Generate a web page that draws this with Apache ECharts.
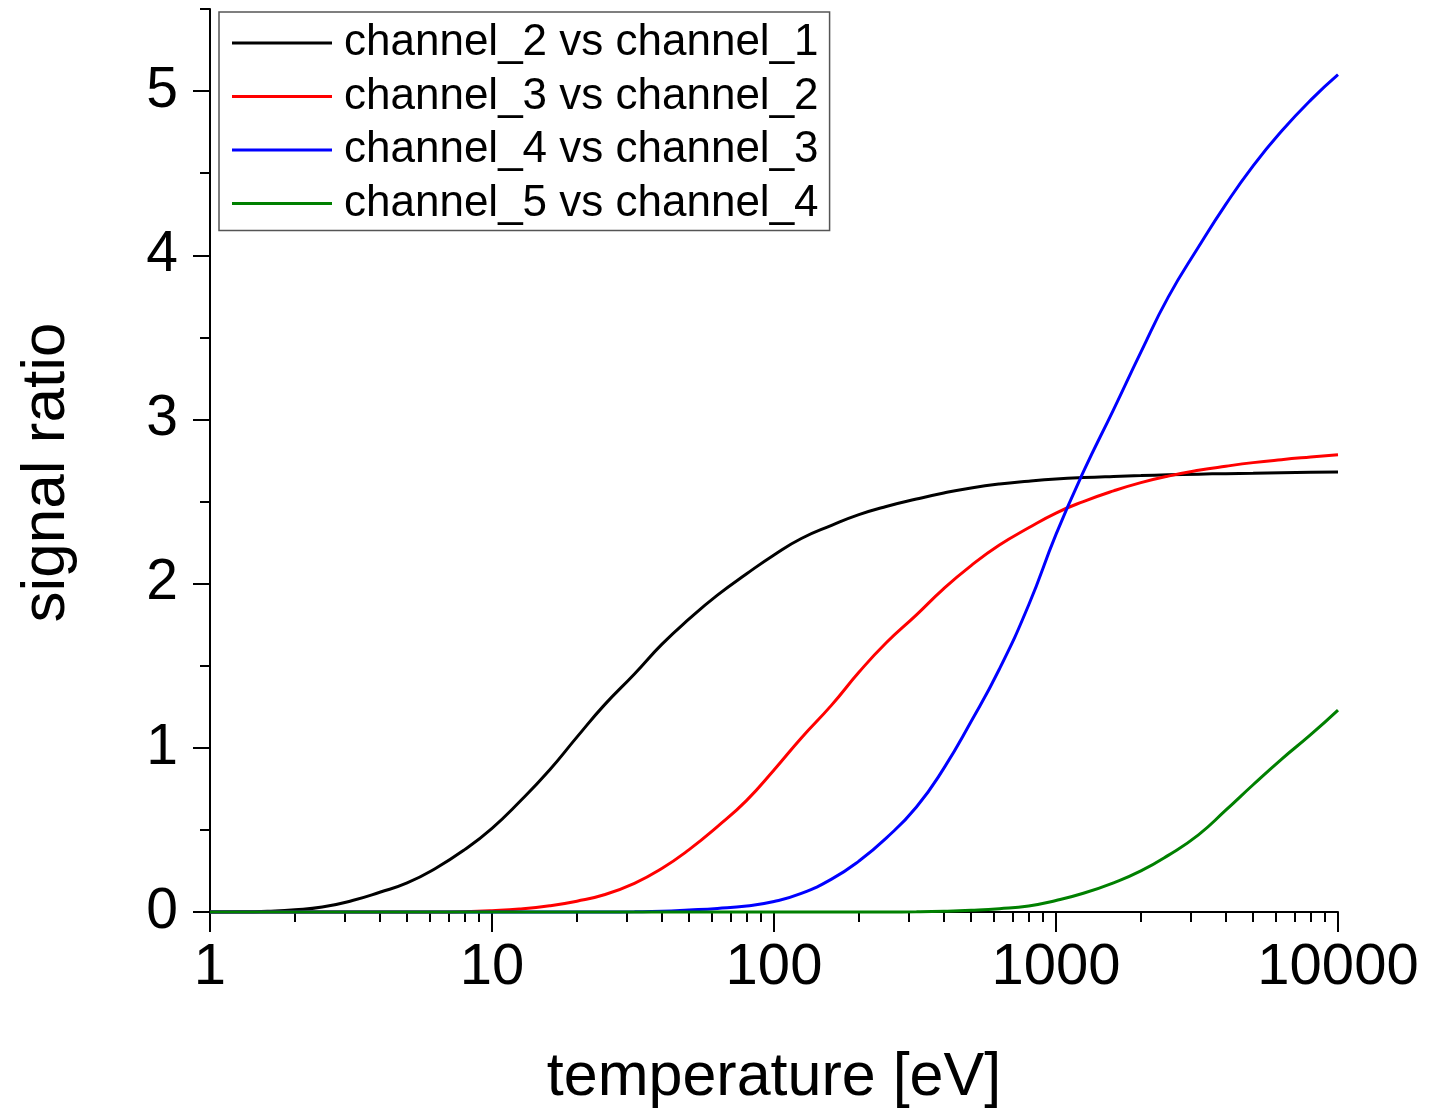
<!DOCTYPE html>
<html><head><meta charset="utf-8">
<script src="https://cdn.jsdelivr.net/npm/echarts@6/dist/echarts.min.js"></script>
<style>html,body{margin:0;padding:0;background:#fff}#c{width:1435px;height:1109px}</style>
</head><body><div id="c"></div>
<script>
const temperature = [1, 1.25, 1.6, 2, 2.5, 3.2, 4, 5, 6.3, 8, 10, 12.5, 16, 20, 25, 32, 40, 50, 63, 80, 100, 125, 160, 200, 250, 320, 400, 500, 630, 800, 1000, 1250, 1600, 2000, 2500, 3200, 4000, 5000, 6300, 8000, 10000];
const ch2vs1 = [0, 0.001, 0.005, 0.013, 0.03, 0.07, 0.12, 0.177, 0.265, 0.38, 0.51, 0.67, 0.865, 1.065, 1.26, 1.45, 1.63, 1.785, 1.93, 2.06, 2.175, 2.275, 2.355, 2.42, 2.47, 2.515, 2.552, 2.583, 2.607, 2.624, 2.637, 2.646, 2.653, 2.658, 2.663, 2.667, 2.67, 2.673, 2.676, 2.678, 2.68];
const ch3vs2 = [0, 0, 0, 0, 0, 0, 0, 0, 0, 0.002, 0.008, 0.018, 0.038, 0.066, 0.105, 0.175, 0.265, 0.38, 0.52, 0.68, 0.865, 1.06, 1.26, 1.46, 1.64, 1.81, 1.97, 2.11, 2.235, 2.34, 2.43, 2.50, 2.565, 2.615, 2.655, 2.69, 2.715, 2.737, 2.755, 2.771, 2.785];
const ch4vs3 = [0, 0, 0, 0, 0, 0, 0, 0, 0, 0, 0, 0, 0, 0, 0, 0.001, 0.004, 0.012, 0.022, 0.037, 0.064, 0.113, 0.2, 0.31, 0.45, 0.64, 0.875, 1.16, 1.48, 1.87, 2.30, 2.68, 3.06, 3.41, 3.745, 4.05, 4.31, 4.545, 4.755, 4.945, 5.10];
const ch5vs4 = [0, 0, 0, 0, 0, 0, 0, 0, 0, 0, 0, 0, 0, 0, 0, 0, 0, 0, 0, 0, 0, 0, 0, 0, 0, 0.001, 0.004, 0.01, 0.02, 0.037, 0.07, 0.114, 0.178, 0.25, 0.345, 0.47, 0.62, 0.775, 0.93, 1.08, 1.23];
const seriesNames = ['channel_2 vs channel_1', 'channel_3 vs channel_2', 'channel_4 vs channel_3', 'channel_5 vs channel_4'];
const seriesColors = ['#000000', '#ff0000', '#0000ff', '#008000'];
const xTickValues = [1, 10, 100, 1000, 10000];
const yTickValues = [0, 1, 2, 3, 4, 5];

const FONT = '"Liberation Sans", Arial, Helvetica, sans-serif';
const xMinor = [];
for (let i = 0; i < xTickValues.length - 1; i++) for (let k = 2; k <= 9; k++) xMinor.push(xTickValues[i] * k);
const yMinor = yTickValues.map(v => v + 0.5);

const allValues = [ch2vs1, ch3vs2, ch4vs3, ch5vs4];
const chart = echarts.init(document.getElementById('c'), null, {renderer: 'canvas'});
const baseX = {type: 'log', logBase: 10, min: 1, max: 10000, position: 'bottom', gridIndex: 0, splitLine: {show: false}};
const baseY = {type: 'value', min: 0, max: 5.5, interval: 0.5, position: 'left', gridIndex: 0, splitLine: {show: false}};
const option = {
  animation: false,
  backgroundColor: '#ffffff',
  grid: {left: 210, right: 97, top: 9, bottom: 197, containLabel: false, outerBoundsMode: 'none'},
  legend: {
    orient: 'vertical', left: 219, top: 12,
    padding: [9, 11, 5, 13],
    borderColor: '#555', borderWidth: 1.5,
    itemWidth: 100, itemHeight: 14, itemGap: 9.5,
    icon: 'path://M0,0 L100,0 L100,3 L0,3 Z',
    textStyle: {fontFamily: FONT, fontSize: 44, lineHeight: 44, color: '#000', padding: [0, 0, 0, 7]},
    data: seriesNames
  },
  xAxis: [
    Object.assign({}, baseX, {
      name: 'temperature [eV]', nameLocation: 'middle', nameGap: 136,
      nameTextStyle: {fontFamily: FONT, fontSize: 61, color: '#000'},
      axisLine: {show: true, onZero: false, lineStyle: {color: '#000', width: 2}},
      axisTick: {show: true, inside: false, length: 20, customValues: xTickValues, lineStyle: {color: '#000', width: 2}},
      axisLabel: {show: true, customValues: xTickValues, margin: 27, fontFamily: FONT, fontSize: 58, color: '#000', formatter: v => String(v)}
    }),
    Object.assign({}, baseX, {
      axisLine: {show: false},
      axisTick: {show: true, inside: false, length: 10, customValues: xMinor, lineStyle: {color: '#000', width: 2}},
      axisLabel: {show: false}
    })
  ],
  yAxis: [
    Object.assign({}, baseY, {
      name: 'signal ratio', nameLocation: 'middle', nameGap: 132,
      nameTextStyle: {fontFamily: FONT, fontSize: 62, color: '#000', padding: [0, 24, 0, 0]},
      axisLine: {show: true, onZero: false, lineStyle: {color: '#000', width: 2}},
      axisTick: {show: true, inside: false, length: 17, customValues: yTickValues, lineStyle: {color: '#000', width: 2}},
      axisLabel: {show: true, customValues: yTickValues, margin: 32, fontFamily: FONT, fontSize: 57, color: '#000'}
    }),
    Object.assign({}, baseY, {
      axisLine: {show: false},
      axisTick: {show: true, inside: false, length: 10, customValues: yMinor, lineStyle: {color: '#000', width: 2}},
      axisLabel: {show: false}
    })
  ],
  series: seriesNames.map((name, i) => ({
    name: name, type: 'line', xAxisIndex: 0, yAxisIndex: 0,
    data: temperature.map((t, j) => [t, allValues[i][j]]),
    showSymbol: false, symbol: 'none', smooth: 0.5,
    color: seriesColors[i],
    lineStyle: {color: seriesColors[i], width: 3},
    itemStyle: {color: seriesColors[i]},
    clip: false
  }))
};
chart.setOption(option);
</script></body></html>
